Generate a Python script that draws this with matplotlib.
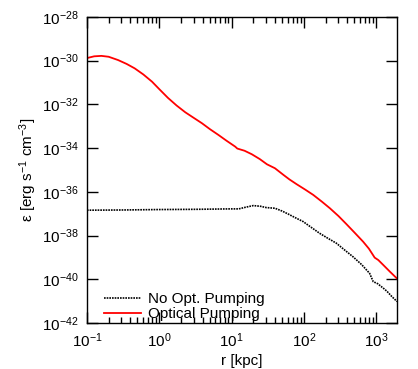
import numpy as np
import matplotlib
matplotlib.use("Agg")
import matplotlib.pyplot as plt
from matplotlib.ticker import LogLocator, LogFormatterMathtext, NullFormatter

plt.rcParams['font.family'] = ['Liberation Sans', 'DejaVu Sans']
plt.rcParams['mathtext.fontset'] = 'custom'
plt.rcParams['mathtext.rm'] = 'Liberation Sans'
plt.rcParams['mathtext.it'] = 'Liberation Sans:italic'
plt.rcParams['mathtext.default'] = 'regular'

# Optical pumping (red): log10 r [kpc], log10 eps
red_logr = [-1.0, -0.9, -0.8, -0.7, -0.57, -0.45, -0.34, -0.22, -0.1, 0.0, 0.12, 0.24,
            0.36, 0.47, 0.59, 0.70, 0.82, 0.93, 1.05, 1.08, 1.18, 1.28, 1.39, 1.49, 1.60,
            1.72, 1.80, 1.90, 2.02, 2.13, 2.25, 2.36, 2.48, 2.59, 2.70, 2.82, 2.90, 2.98,
            3.03, 3.10, 3.19, 3.29]
red_logeps = [-29.88, -29.80, -29.78, -29.82, -29.97, -30.15, -30.35, -30.63, -30.96, -31.30,
              -31.70, -32.05, -32.36, -32.60, -32.86, -33.13, -33.40, -33.66, -33.93, -34.02,
              -34.12, -34.28, -34.50, -34.74, -34.92, -35.23, -35.43, -35.65, -35.90, -36.14,
              -36.45, -36.75, -37.11, -37.48, -37.86, -38.28, -38.60, -39.01, -39.12, -39.35,
              -39.65, -39.97]

# No optical pumping (black dotted)
blk_logr = [-1.0, -0.5, 0.0, 0.5, 0.98, 1.10, 1.20, 1.30, 1.40, 1.48, 1.60, 1.70, 1.78,
            1.88, 1.99, 2.10, 2.22, 2.33, 2.45, 2.56, 2.68, 2.80, 2.91, 2.96, 3.02, 3.10,
            3.15, 3.22, 3.29]
blk_logeps = [-36.84, -36.83, -36.81, -36.80, -36.78, -36.78, -36.70, -36.63, -36.66, -36.72,
              -36.75, -36.88, -37.01, -37.18, -37.36, -37.62, -37.90, -38.12, -38.35, -38.65,
              -38.97, -39.33, -39.73, -40.11, -40.20, -40.41, -40.55, -40.80, -41.02]

labels = ["No Opt. Pumping", "Optical Pumping"]

r_red = 10.0 ** np.array(red_logr)
eps_red = 10.0 ** np.array(red_logeps)
r_blk = 10.0 ** np.array(blk_logr)
eps_blk = 10.0 ** np.array(blk_logeps)

fig = plt.figure(figsize=(4.18, 3.69), dpi=100)
ax = fig.add_axes([0.208, 0.1247, 0.742, 0.8293])

ax.plot(r_blk, eps_blk, color='black', lw=1.2, linestyle=(0, (1, 0.6)), label=labels[0])
ax.plot(r_red, eps_red, color='#ff0000', lw=1.3, label=labels[1])

ax.set_xscale('log')
ax.set_yscale('log')
ax.set_xlim(0.1, 1950)
ax.set_ylim(1e-42, 1e-28)

ax.xaxis.set_major_locator(LogLocator(base=10, numticks=20))
ax.xaxis.set_minor_locator(LogLocator(base=10, subs=np.arange(2, 10), numticks=20))
ax.xaxis.set_major_formatter(LogFormatterMathtext())
ax.xaxis.set_minor_formatter(NullFormatter())
ax.set_yticks([10.0 ** e for e in range(-42, -27, 2)])
ax.yaxis.set_major_formatter(LogFormatterMathtext())
ax.yaxis.set_minor_locator(plt.NullLocator())

ax.tick_params(which='both', direction='in', top=True, right=True, labelsize=11, width=1.0)
ax.tick_params(which='major', length=8, pad=6)
ax.tick_params(which='minor', length=4)
for s in ax.spines.values():
    s.set_linewidth(1.0)

ax.set_xlabel('r [kpc]', fontsize=11, labelpad=3)
ax.set_ylabel(r'ε [erg s$^{-1}$ cm$^{-3}$]', fontsize=11, labelpad=2)

ax.legend(loc='lower left', bbox_to_anchor=(0.03, -0.018), frameon=False, fontsize=11,
          handlelength=2.4, handletextpad=0.5, labelspacing=0.05, borderpad=0.0)

fig.savefig('out.png', dpi=100)
